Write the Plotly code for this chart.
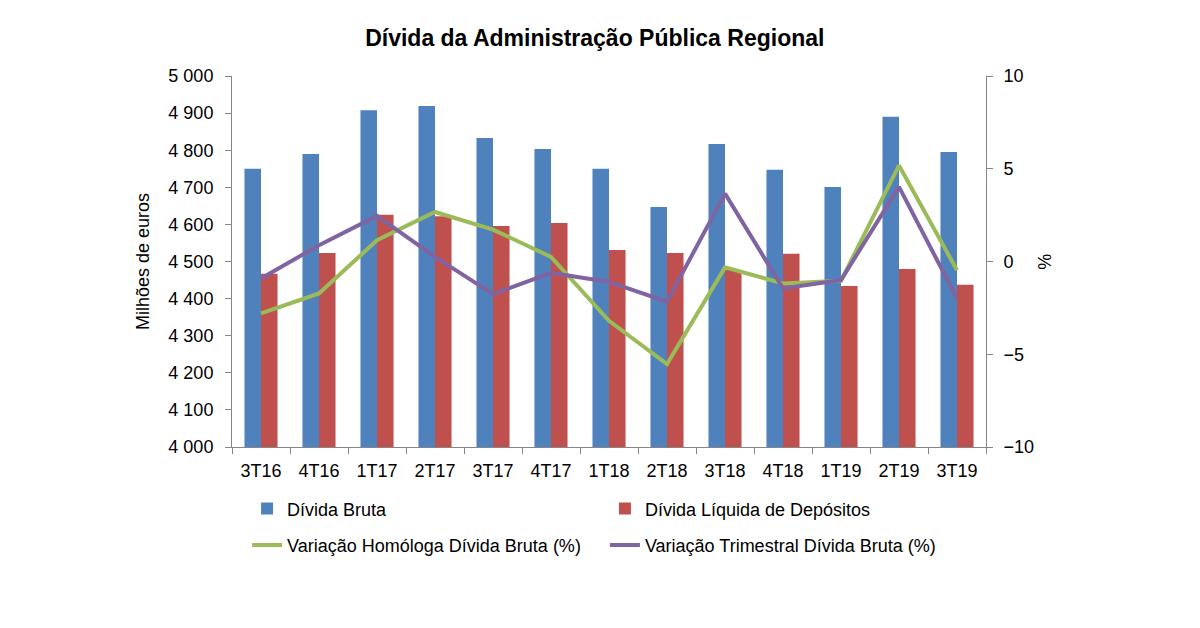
import plotly.graph_objects as go

categories = ["3T16", "4T16", "1T17", "2T17", "3T17", "4T17", "1T18",
              "2T18", "3T18", "4T18", "1T19", "2T19", "3T19"]
divida_bruta = [4750, 4790, 4908, 4919, 4833, 4803, 4750,
                4647, 4817, 4747, 4701, 4890, 4795]
divida_liquida = [4467, 4523, 4626, 4622, 4596, 4604, 4531,
                  4523, 4477, 4521, 4434, 4480, 4437]
var_homologa = [-2.8, -1.72, 1.15, 2.67, 1.72, 0.25, -3.2,
                -5.53, -0.32, -1.18, -1.04, 5.18, -0.47]
var_trimestral = [-0.92, 0.88, 2.46, 0.25, -1.76, -0.61, -1.1,
                  -2.17, 3.66, -1.45, -1.0, 4.02, -1.99]
left_ticks = [4000, 4100, 4200, 4300, 4400, 4500, 4600, 4700, 4800, 4900, 5000]
left_labels = ["4 000", "4 100", "4 200", "4 300", "4 400", "4 500",
               "4 600", "4 700", "4 800", "4 900", "5 000"]
right_ticks = [-10, -5, 0, 5, 10]

FONT = "Liberation Sans, Arial, sans-serif"
AX = "#868686"

fig = go.Figure()
fig.add_trace(go.Bar(x=categories, y=divida_bruta, name="Dívida Bruta",
                     marker=dict(color="#4F81BD", line=dict(width=0)),
                     legend="legend", legendgroup="a"))
fig.add_trace(go.Bar(x=categories, y=divida_liquida, name="Dívida Líquida de Depósitos",
                     marker=dict(color="#C0504D", line=dict(width=0)),
                     legend="legend2", legendgroup="b"))
fig.add_trace(go.Scatter(x=categories, y=var_homologa, mode="lines", yaxis="y2",
                         name="Variação Homóloga Dívida Bruta (%)",
                         line=dict(color="#9BBB59", width=4),
                         legend="legend", legendgroup="c"))
fig.add_trace(go.Scatter(x=categories, y=var_trimestral, mode="lines", yaxis="y2",
                         name="Variação Trimestral Dívida Bruta (%)",
                         line=dict(color="#8064A2", width=4),
                         legend="legend2", legendgroup="d"))

legend_common = dict(orientation="v", xanchor="left", yanchor="top",
                     font=dict(family=FONT, size=18, color="#000000"),
                     bgcolor="rgba(0,0,0,0)", tracegroupgap=10,
                     traceorder="grouped")

fig.update_layout(
    width=1200, height=628,
    margin=dict(l=224, r=222, t=68, b=189),
    paper_bgcolor="white", plot_bgcolor="white",
    font=dict(family=FONT, size=18, color="#000000"),
    title=dict(text="<b>Dívida da Administração Pública Regional</b>",
               x=0.489, xanchor="center", y=0.952, yanchor="middle",
               font=dict(family=FONT, size=23, color="#000000")),
    barmode="group", bargap=0.43, bargroupgap=0,
    showlegend=True,
    legend=dict(x=0.020, y=-0.117, **legend_common),
    legend2=dict(x=0.4946, y=-0.117, **legend_common),
    xaxis=dict(showline=True, linecolor=AX, linewidth=1, ticks="outside",
               tickson="boundaries", ticklen=6, tickcolor=AX,
               showgrid=False, tickfont=dict(size=18), ticklabelstandoff=7),
    yaxis=dict(range=[4000, 5000], tickvals=left_ticks, ticktext=left_labels,
               showline=True, linecolor=AX, linewidth=1, ticks="outside",
               ticklen=6, tickcolor=AX, showgrid=False, zeroline=False,
               tickfont=dict(size=18), ticklabelstandoff=8,
               title=dict(text="Milhões de euros", font=dict(size=18), standoff=14)),
    yaxis2=dict(range=[-10, 10], tickvals=right_ticks, overlaying="y", side="right",
                showline=True, linecolor=AX, linewidth=1, ticks="outside",
                ticklen=6, tickcolor=AX, showgrid=False, zeroline=False,
                tickfont=dict(size=18), ticklabelstandoff=7),
    annotations=[dict(text="%", xref="paper", yref="paper", x=1.078, y=0.5,
                      xanchor="center", yanchor="middle", showarrow=False,
                      textangle=90, font=dict(family=FONT, size=18, color="#000000"))],
)

fig.write_html("out.html")
